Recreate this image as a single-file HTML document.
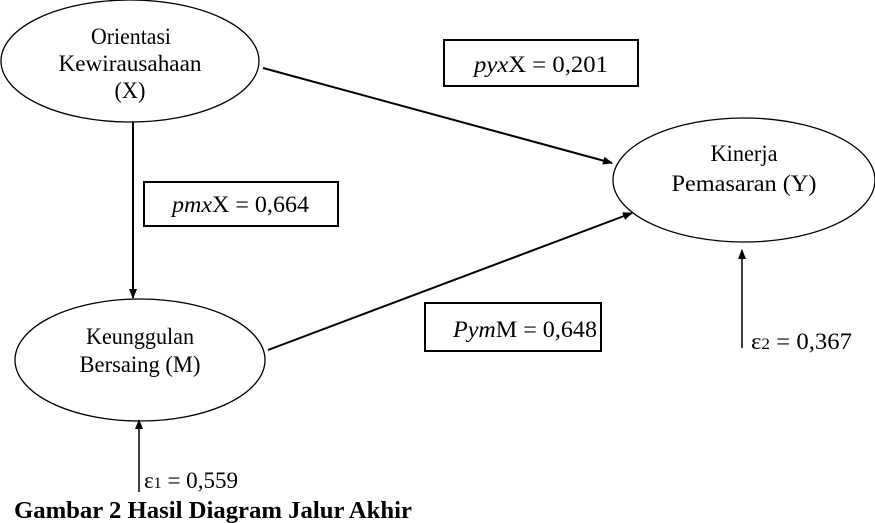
<!DOCTYPE html>
<html><head><meta charset="utf-8">
<style>html,body{margin:0;padding:0;background:#fff}svg{display:block}text{font-family:"Liberation Serif",serif}</style>
</head><body>
<svg width="875" height="523" viewBox="0 0 875 523" xmlns="http://www.w3.org/2000/svg" fill="#000">
<defs>
<marker id="a" markerWidth="10" markerHeight="8" refX="9" refY="4" orient="auto" markerUnits="userSpaceOnUse">
<path d="M0,0 L10,4 L0,8 z" fill="#000"/>
</marker>
</defs>
<g fill="none" stroke="#000" stroke-width="1.3">
<ellipse cx="130" cy="61" rx="129" ry="61"/>
<ellipse cx="744" cy="180" rx="131" ry="62"/>
<ellipse cx="140" cy="360" rx="125" ry="61"/>
<rect x="444" y="40" width="194" height="46" stroke-width="2"/>
<rect x="144" y="182" width="194" height="44" stroke-width="2"/>
<rect x="425" y="303" width="176" height="48" stroke-width="2"/>
</g>
<g stroke="#000" stroke-width="2" fill="none">
<line x1="263" y1="68" x2="612" y2="163" marker-end="url(#a)"/>
<line x1="133" y1="122" x2="133" y2="298" marker-end="url(#a)"/>
<line x1="268" y1="350" x2="632" y2="213" marker-end="url(#a)"/>
<line x1="139" y1="492" x2="139" y2="420" marker-end="url(#a)" stroke-width="1.5"/>
<line x1="742" y1="348" x2="742" y2="250" marker-end="url(#a)" stroke-width="1.5"/>
</g>
<g font-size="23" text-anchor="middle">
<text x="131" y="44" textLength="80" lengthAdjust="spacingAndGlyphs">Orientasi</text>
<text x="130" y="71" textLength="143" lengthAdjust="spacingAndGlyphs">Kewirausahaan</text>
<text x="130" y="98" textLength="31" lengthAdjust="spacingAndGlyphs">(X)</text>
<text x="744" y="161" textLength="67" lengthAdjust="spacingAndGlyphs">Kinerja</text>
<text x="744" y="191" textLength="145" lengthAdjust="spacingAndGlyphs">Pemasaran (Y)</text>
<text x="140" y="344" textLength="108" lengthAdjust="spacingAndGlyphs">Keunggulan</text>
<text x="140" y="372" textLength="121" lengthAdjust="spacingAndGlyphs">Bersaing (M)</text>
</g>
<g font-size="23">
<text x="474" y="72" textLength="134" lengthAdjust="spacingAndGlyphs"><tspan font-style="italic">pyx</tspan>X = 0,201</text>
<text x="172" y="212" textLength="137" lengthAdjust="spacingAndGlyphs"><tspan font-style="italic">pmx</tspan>X  = 0,664</text>
<text x="453" y="337" textLength="144" lengthAdjust="spacingAndGlyphs"><tspan font-style="italic">Pym</tspan>M = 0,648</text>
<text x="144" y="488" textLength="94" lengthAdjust="spacingAndGlyphs">ε<tspan font-size="16">1</tspan> = 0,559</text>
<text x="751" y="349" textLength="101" lengthAdjust="spacingAndGlyphs">ε<tspan font-size="16">2</tspan> = 0,367</text>
</g>
<text x="14" y="518" font-size="24" font-weight="bold" textLength="398" lengthAdjust="spacingAndGlyphs">Gambar  2 Hasil Diagram  Jalur  Akhir</text>
</svg>
</body></html>
